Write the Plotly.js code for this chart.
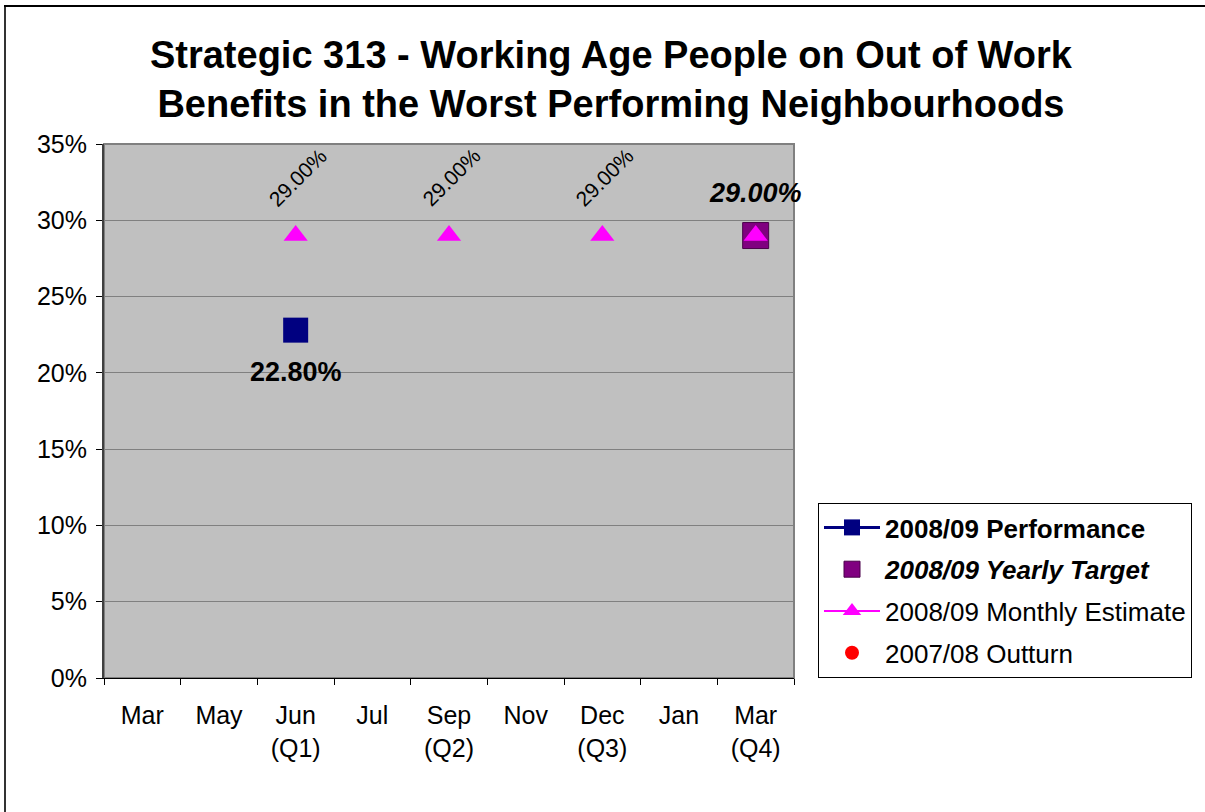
<!DOCTYPE html>
<html>
<head>
<meta charset="utf-8">
<script src="https://cdn.plot.ly/plotly-3.0.1.min.js"></script>
<style>
  html, body { margin: 0; padding: 0; background: #ffffff; }
  #chart { width: 1205px; height: 812px; }
</style>
</head>
<body>
<div id="chart"></div>
<script>
// ---- data ----
const categories = ["Mar", "May", "Jun<br>(Q1)", "Jul", "Sep<br>(Q2)", "Nov", "Dec<br>(Q3)", "Jan", "Mar<br>(Q4)"];
const performance2008 = [null, null, 0.228, null, null, null, null, null, null];
const yearlyTarget2008 = [null, null, null, null, null, null, null, null, 0.29];
const monthlyEstimate2008 = [null, null, 0.29, null, 0.29, null, 0.29, null, 0.29];
const outturn2007 = [null, null, null, null, null, null, null, null, null];
const seriesNames = ["2008/09 Performance", "2008/09 Yearly Target", "2008/09 Monthly Estimate", "2007/08 Outturn"];
const titleText = "Strategic 313 - Working Age People on Out of Work<br>Benefits in the Worst Performing Neighbourhoods";

const FONT = "Liberation Sans, Arial, Helvetica, sans-serif";
const fmt = v => (v * 100).toFixed(2) + "%";

const traces = [
  {
    x: categories, y: performance2008, name: "<b>" + seriesNames[0] + "</b>",
    type: "scatter", mode: "lines+markers", cliponaxis: false,
    line: { color: "#000080", width: 3 },
    marker: { symbol: "square", size: 25, color: "#000080" },
    legendgroup: "a"
  },
  {
    x: categories, y: yearlyTarget2008, name: "<b><i>" + seriesNames[1] + "</i></b>",
    type: "scatter", mode: "markers", cliponaxis: false,
    marker: { symbol: "square", size: 26, color: "#800080", line: { color: "#4a004a", width: 1 } },
    legendgroup: "b"
  },
  {
    x: categories, y: monthlyEstimate2008, name: seriesNames[2],
    type: "scatter", mode: "lines+markers", cliponaxis: false, connectgaps: false,
    line: { color: "#FF00FF", width: 2 },
    marker: { symbol: "triangle-up", size: 21, color: "#FF00FF" },
    legendgroup: "c"
  },
  {
    x: categories, y: outturn2007, name: seriesNames[3],
    type: "scatter", mode: "markers",
    marker: { symbol: "circle", size: 14, color: "#FF0000" },
    legendgroup: "d"
  }
];

const annotations = [];
categories.forEach((c, i) => {
  if (monthlyEstimate2008[i] != null && yearlyTarget2008[i] == null) {
    annotations.push({
      x: c, y: monthlyEstimate2008[i], xref: "x", yref: "y",
      text: fmt(monthlyEstimate2008[i]), showarrow: false, textangle: -45,
      xanchor: "center", yanchor: "middle", xshift: 2, yshift: 58,
      font: { family: FONT, size: 21, color: "#000000" }
    });
  }
  if (yearlyTarget2008[i] != null) {
    annotations.push({
      x: c, y: yearlyTarget2008[i], xref: "x", yref: "y",
      text: "<b><i>" + fmt(yearlyTarget2008[i]) + "</i></b>", showarrow: false,
      xanchor: "center", yanchor: "middle", yshift: 43,
      font: { family: FONT, size: 27, color: "#000000" }
    });
  }
  if (performance2008[i] != null) {
    annotations.push({
      x: c, y: performance2008[i], xref: "x", yref: "y",
      text: "<b>" + fmt(performance2008[i]) + "</b>", showarrow: false,
      xanchor: "center", yanchor: "middle", yshift: -42,
      font: { family: FONT, size: 27, color: "#000000" }
    });
  }
});

const W = 1205, H = 812, L = 104, R = 411, T = 144, B = 134;
const pw = W - L - R, ph = H - T - B;
const px = v => (v - L) / pw;
const py = v => (H - B - v) / ph;

const layout = {
  width: W, height: H,
  paper_bgcolor: "#ffffff",
  plot_bgcolor: "#C0C0C0",
  margin: { l: L, r: R, t: T, b: B, pad: 0 },
  font: { family: FONT, size: 25, color: "#000000" },
  title: {
    text: "<b>" + titleText + "</b>",
    font: { family: FONT, size: 38, color: "#000000" },
    x: 0.507, xref: "container", xanchor: "center",
    y: 1 - 68 / H, yref: "container", yanchor: "top"
  },
  xaxis: {
    type: "category", categoryorder: "array", categoryarray: categories,
    range: [-0.5, categories.length - 0.5],
    showgrid: false, zeroline: false,
    showline: true, linecolor: "#000000", linewidth: 1,
    ticks: "outside", tickson: "boundaries", ticklen: 6, tickcolor: "#000000", tickwidth: 1,
    tickfont: { family: FONT, size: 25, color: "#000000" },
    ticklabelstandoff: 15,
    fixedrange: true
  },
  yaxis: {
    range: [0, 0.35], dtick: 0.05, tick0: 0, tickformat: ".0%",
    showgrid: true, gridcolor: "#808080", gridwidth: 1,
    zeroline: false,
    showline: true, linecolor: "#404040", linewidth: 2,
    ticks: "outside", ticklen: 6, tickcolor: "#000000", tickwidth: 1,
    tickfont: { family: FONT, size: 25, color: "#000000" },
    ticklabelstandoff: 4,
    fixedrange: true
  },
  showlegend: true,
  legend: {
    xref: "container", yref: "container",
    x: 818 / W, xanchor: "left",
    y: 1 - 503 / H, yanchor: "top",
    bgcolor: "#ffffff", bordercolor: "#000000", borderwidth: 1,
    font: { family: FONT, size: 26, color: "#000000" },
    traceorder: "grouped", tracegroupgap: 5,
    itemwidth: 56,
    itemsizing: "trace"
  },
  annotations: annotations,
  shapes: [
    { type: "rect", xref: "paper", yref: "paper", x0: 0, x1: 1, y0: 0, y1: 1,
      line: { color: "#808080", width: 2 }, fillcolor: "rgba(0,0,0,0)", layer: "below" },
    { type: "line", xref: "paper", yref: "paper", x0: px(5), x1: px(5), y0: py(H + 5), y1: py(6),
      line: { color: "#333333", width: 2 } },
    { type: "line", xref: "paper", yref: "paper", x0: px(4), x1: px(W + 5), y0: py(6), y1: py(6),
      line: { color: "#000000", width: 2 } }
  ]
};

Plotly.newPlot("chart", traces, layout, { displayModeBar: false, staticPlot: true });
</script>
</body>
</html>
